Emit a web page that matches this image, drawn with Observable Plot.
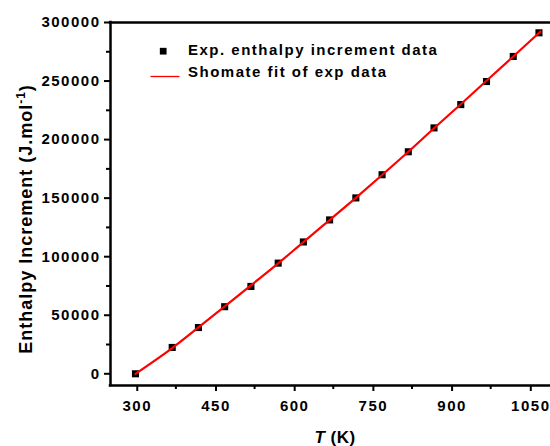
<!DOCTYPE html>
<html><head><meta charset="utf-8">
<script src="https://cdn.jsdelivr.net/npm/d3@7"></script>
<script src="https://cdn.jsdelivr.net/npm/@observablehq/plot@0.6"></script>
<style>html,body{margin:0;padding:0;background:#fff;}</style>
</head><body><div id="chart"></div>
<script>
const temperature = [298, 368, 418, 468, 518, 570, 618, 668, 718, 768, 818, 867, 918, 967, 1018, 1067];
const enthalpyExp = [0, 22500, 39500, 57300, 74600, 94500, 112600, 131400, 150200, 170000, 189600, 210000, 229900, 249600, 271000, 291200];
// Shomate fit curve
const fitTemperature = [298, 368, 418, 468, 518, 570, 618, 668, 718, 768, 818, 867, 918, 967, 1018, 1070];
const enthalpyFit = [0, 22000, 39600, 57500, 75500, 94300, 112500, 131300, 150300, 169800, 189600, 209700, 230200, 250300, 271000, 292300];

const xDomain = [250.4, 1089];
const yDomain = [-10000, 300000];
const xTicks = [300, 450, 600, 750, 900, 1050];
const xMinorTicks = [375, 525, 675, 825, 975];
const yTicks = [0, 50000, 100000, 150000, 200000, 250000, 300000];
const yMinorTicks = [25000, 75000, 125000, 175000, 225000, 275000];
const legendLabels = ["Exp. enthalpy increment data", "Shomate fit of exp data"];
const yTitle = ["Enthalpy Increment (J.mol", "-1", ")"];
const xTitle = ["T", " (K)"];

const expData = temperature.map((t, i) => ({T: t, H: enthalpyExp[i]}));
const fitData = fitTemperature.map((t, i) => ({T: t, H: enthalpyFit[i]}));

const font = "'Liberation Sans', Arial, sans-serif";
const lineSymbol = {draw(ctx) { ctx.moveTo(-14.5, 0); ctx.lineTo(14.5, 0); }};

const plot = Plot.plot({
  width: 550, height: 446,
  marginLeft: 110, marginRight: 0, marginTop: 22, marginBottom: 61,
  style: {fontFamily: font, fontWeight: "bold", fontSize: "15px", letterSpacing: "1.5px", color: "#000", background: "#fff", overflow: "visible"},
  x: {domain: xDomain},
  y: {domain: yDomain},
  marks: [
    Plot.axisX(xTicks, {tickSize: 6, tickPadding: 9, strokeWidth: 2, label: null, tickFormat: d => String(d), fontSize: 15, fontWeight: "bold", dx: 0.75}),
    Plot.axisX(xMinorTicks, {tickSize: 4, strokeWidth: 2, label: null, text: null}),
    Plot.axisY(yTicks, {tickSize: 6, tickPadding: 4, strokeWidth: 2, label: null, tickFormat: d => String(d), fontSize: 15, fontWeight: "bold"}),
    Plot.axisY(yMinorTicks, {tickSize: 4, strokeWidth: 2, label: null, text: null}),
    Plot.ruleX([xDomain[0]], {stroke: "#000", strokeWidth: 2.5, strokeLinecap: "square"}),
    Plot.ruleY([yDomain[0]], {stroke: "#000", strokeWidth: 2.5, strokeLinecap: "square"}),
    Plot.ruleY([yTicks[yTicks.length - 1]], {stroke: "#000", strokeWidth: 2.5, strokeLinecap: "square"}),
    Plot.dot(expData, {x: "T", y: "H", symbol: "square", r: 4, fill: "#000", stroke: "none"}),
    Plot.line(fitData, {x: "T", y: "H", stroke: "#ff0000", strokeWidth: 2.2, curve: "catmull-rom"}),
    // legend
    Plot.dot([legendLabels[0]], {frameAnchor: "top-left", dx: 52.7, dy: 28.7, symbol: "square", r: 3.8, fill: "#000", stroke: "none"}),
    Plot.text([legendLabels[0]], {text: d => d, frameAnchor: "top-left", lineAnchor: "middle", dx: 77.5, dy: 27.7, textAnchor: "start", fontSize: 15, fontWeight: "bold", fill: "#000"}),
    Plot.dot([legendLabels[1]], {frameAnchor: "top-left", dx: 54.5, dy: 54, symbol: lineSymbol, fill: "none", stroke: "#ff0000", strokeWidth: 1.3}),
    Plot.text([legendLabels[1]], {text: d => d, frameAnchor: "top-left", lineAnchor: "middle", dx: 77.5, dy: 49.3, textAnchor: "start", fontSize: 15, fontWeight: "bold", fill: "#000"})
  ]
});

const svg = d3.select(plot);
const yt = svg.append("text")
  .attr("transform", "translate(32,219) rotate(-90)")
  .attr("text-anchor", "middle")
  .attr("font-family", font).attr("font-weight", "bold").attr("font-size", 18)
  .attr("letter-spacing", "1px").attr("fill", "#000");
yt.append("tspan").text(yTitle[0]);
yt.append("tspan").attr("baseline-shift", "super").attr("font-size", 12).text(yTitle[1]);
yt.append("tspan").text(yTitle[2]);

const xt = svg.append("text")
  .attr("x", 335).attr("y", 443)
  .attr("text-anchor", "middle")
  .attr("font-family", font).attr("font-weight", "bold").attr("font-size", 17)
  .attr("letter-spacing", "0.5px").attr("fill", "#000");
xt.append("tspan").attr("font-style", "italic").text(xTitle[0]);
xt.append("tspan").text(xTitle[1]);

document.getElementById("chart").appendChild(plot);
</script>
</body></html>
